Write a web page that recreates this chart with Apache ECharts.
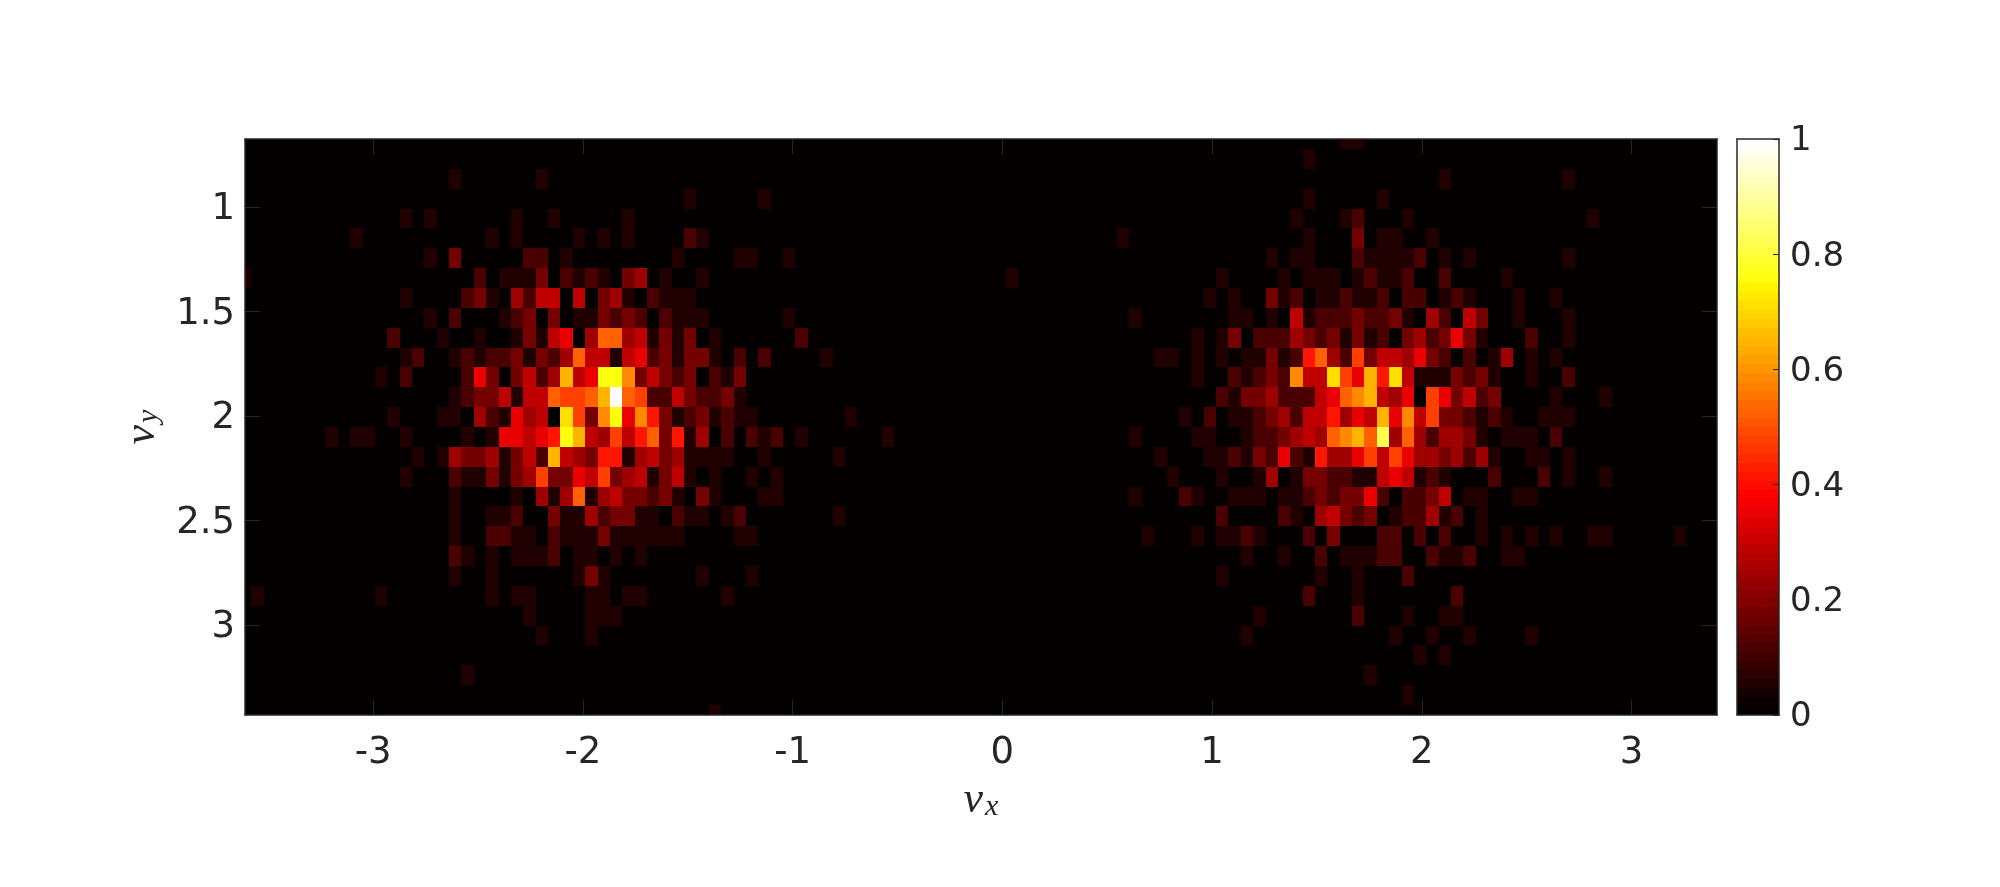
<!DOCTYPE html>
<html>
<head>
<meta charset="utf-8">
<style>html,body{margin:0;padding:0;background:#fff}#c{width:2000px;height:887px}</style>
<script src="https://cdn.jsdelivr.net/npm/echarts@6/dist/echarts.min.js"></script>
</head>
<body>
<div id="c"></div>
<script>
// Histogram counts per row; each run is [startColumn, count, count, ...]; absent cells are zero.
const countRows = [
  [[89,1,1]],
  [[86,1]],
  [[17,1],[24,1],[97,1],[107,1]],
  [[36,1],[42,1],[86,1],[92,1]],
  [[13,1],[15,1],[22,1],[25,1],[31,1],[85,1],[89,1,2],[94,1],[109,1]],
  [[9,1],[20,1],[22,1],[27,1],[29,1],[31,1],[36,2,1],[71,1],[86,1],[90,3],[92,1,1],[96,1]],
  [[15,1],[17,3],[23,2,2],[26,1],[35,1],[40,1,1],[44,1],[83,1],[85,1,1],[90,2,1,1,1,1,2],[97,1],[99,1],[107,1]],
  [[0,1],[19,2],[21,1,1,1,3],[26,2,1,2,1],[31,3,4],[34,1],[37,1],[62,1],[79,1],[84,1],[86,1,1,1],[90,1,2,1,1,2],[97,2],[102,1]],
  [[13,1],[18,2,3,1],[22,4,2,5,5],[27,5],[29,3,4,1],[33,2,1,1,1],[78,1],[80,1],[83,3,1,2],[87,1,1,2,1,1,2],[94,2,2],[97,1,2,1],[103,1],[106,1]],
  [[15,1],[17,2],[21,1,2,3],[25,3],[27,1,1,3,2,3,2],[34,2,1,1,1],[44,1],[72,1],[80,1,1],[83,1],[85,5,1,2,2,2,3,2,2,3,1],[96,4,2],[99,5,3],[103,1],[107,1]],
  [[12,2],[16,1],[19,1],[22,1,3,1,5,6],[28,4,9,9,4,5,1,3,1,3],[38,1],[45,2],[77,1],[79,1,3],[82,2,2,2,4,3,2,3,1,3,1,2],[94,3,4,2,3,6,3,1],[104,2],[107,1]],
  [[13,1,2],[17,1,2,1,2,2,3,1,3,2,4,9,5,5,1,5,6,2,3,1,3,3,1],[40,2],[42,2],[47,1],[74,1,1],[77,1],[79,1],[81,1,1,3,1,2,7,9,4,2,8,3,5,5,4,6,3,2,0,2,0,1,4],[104,1],[106,1]],
  [[11,1],[13,2],[18,2,6,3,0,3,5,2,4,11,5,6,13,13,10,3,5,3,2,3,0,2,1,3],[77,1],[80,2,1,2,3,2,10,5,5,12,8,6,11,7,12,5,1,1,1,3,2,3,1],[104,1],[107,2]],
  [[17,1,2,3,3,5,1,5,5,9,8,8,9,11,17,9,8,2,2,5,3,2,2,3,1],[79,2,1,3,3,4,2,2,2,5,6,9,10,11,5,4,6,0,8,6,3,5,2,3],[106,1],[110,1]],
  [[12,1],[16,1,1,0,4,2,1,6,4,5,0,12,8,3,10,13,6,10,7,3,1,2,3,1,2,1,1],[49,1],[76,1],[78,2],[80,1,1,2,3,4,2,5,5,7,4,6,5,11,6,10,5,8,3,3,2,1,2,1],[105,1,1,1]],
  [[7,1],[9,1,1],[13,1],[18,1],[20,1,6,6,5,6,7,13,11,5,4,8,5,7,9,3,7,1,4,0,2,0,2,1,2,0,1],[52,1],[72,1],[77,1,1],[81,1,2,2,3,4,5,4,9,10,11,9,14,4,9,4,2,4,4,3,1,0,1,1,1,0,2]],
  [[14,1],[16,1,4,3,3,4,1,3,5,2,11,5,4,3,7,7,1,4,5,3,4,1,1,1,1],[42,1],[48,1],[74,1],[78,1,1,2,1,3,2,6,2,1,7,4,4,6,8,5,8,6,4,4,3,4,2,4,1],[104,1,1],[107,1]],
  [[13,1],[17,2,1,1,3,1,3,4,8,3,3,6,5,8,3,4,5,1,3,5,1,0,1],[41,1],[43,1],[75,1],[79,1],[82,1,4,0,1,3,3,2,2,1,1,5,6,5,1,2,1],[101,2],[105,2],[107,1],[110,1]],
  [[17,1],[22,1],[24,4,1,4,9,1,4,5,3,3,2,3,1,0,3,1],[42,1,1],[72,1],[76,2,1],[80,1,1,1],[84,1,1,2,3,2,3,3,6,2,0,2,2,3,5,0,1,1],[103,1,1]],
  [[17,1],[20,1,1,2],[25,3,1,1,4,2,3,3,1,1,0,2,1,1,0,1,2],[48,1],[79,2],[84,2,1],[87,4,5,3,2,3,0,1,2,2,4,1,2],[100,1]],
  [[17,1],[20,2,2,1,1],[25,2,1,1,1,3,1,1,1,1,1,1],[40,1,1],[73,1],[77,1],[79,1,1,2,1],[86,2],[88,3],[92,2,2],[95,2],[97,2],[100,1],[102,1],[104,1],[106,1],[109,1,1],[116,1]],
  [[17,2,1],[20,1],[22,1,1,1,2],[27,1,1],[30,1],[32,1],[81,1],[84,1],[87,2],[89,1,1,1,2,2],[96,2,1,1,2],[102,1,1]],
  [[17,1],[20,1],[27,1,3,1],[37,1],[41,1],[79,1],[87,1],[90,1],[94,2]],
  [[1,1],[11,1],[20,1],[22,1,1],[28,1,1],[31,1,1],[39,1],[86,2],[90,1],[98,2]],
  [[23,1],[28,1,1,1],[82,1],[90,2],[94,1],[97,1,1]],
  [[24,1],[28,1],[81,1],[93,1],[96,1],[99,1],[104,1]],
  [[95,1],[97,1]],
  [[18,1],[91,1]],
  [[94,1]],
  [[38,1]]
];
const maxCount = 17;
const columnCount = 120;
const vxStart = -3.611, vxEnd = 3.407;
const vyStart = 0.675, vyEnd = 3.43;
const vxTicks = [-3, -2, -1, 0, 1, 2, 3];
const vyTicks = [1, 1.5, 2, 2.5, 3];
const barTicks = [0, 0.2, 0.4, 0.6, 0.8, 1];
const colorLevels = 64;

const vxStep = (vxEnd - vxStart) / (columnCount - 1);
const vyStep = (vyEnd - vyStart) / (countRows.length - 1);

function hotColor(value) {
  const i = Math.min(colorLevels - 1, Math.floor(value * colorLevels));
  const c = t => Math.round(255 * Math.max(0, Math.min(1, t)));
  const r = Math.max(5, c(i / 24));
  return 'rgb(' + r + ',' + c((i - 24) / 24) + ',' + c((i - 47) / 16) + ')';
}

const cells = [];
countRows.forEach((runs, row) => {
  const line = new Array(columnCount).fill(0);
  runs.forEach(run => run.slice(1).forEach((n, k) => { line[run[0] + k] = n; }));
  line.forEach((n, col) => {
    cells.push([vxStart + col * vxStep, vyStart + row * vyStep, n / maxCount]);
  });
});

const barCells = [];
for (let i = 0; i < colorLevels; i++) barCells.push([0.5, (i + 0.5) / colorLevels, (i + 0.5) / colorLevels]);

function cellRenderer(dx, dy) {
  return function (params, api) {
    const a = api.coord([api.value(0) - dx / 2, api.value(1) - dy / 2]);
    const b = api.coord([api.value(0) + dx / 2, api.value(1) + dy / 2]);
    const cs = params.coordSys;
    const x0 = Math.round(Math.max(cs.x, Math.min(a[0], b[0])));
    const x1 = Math.round(Math.min(cs.x + cs.width, Math.max(a[0], b[0])));
    const y0 = Math.round(Math.max(cs.y, Math.min(a[1], b[1])));
    const y1 = Math.round(Math.min(cs.y + cs.height, Math.max(a[1], b[1])));
    return {
      type: 'rect',
      shape: { x: x0, y: y0, width: x1 - x0, height: y1 - y0 },
      style: { fill: hotColor(api.value(2)) }
    };
  };
}

const ink = '#262626';
const line = { show: true, onZero: false, lineStyle: { color: ink, width: 1.5 } };
const plotTick = values => ({ show: true, inside: true, length: 15, customValues: values, lineStyle: { color: ink, width: 1 } });
const xLabelFont = { color: ink, fontFamily: 'DejaVu Sans', fontSize: 37, padding: [5, 0, 0, 0] };
const shifted = text => '{a|' + text + '}';
const shiftedLabel = size => ({
  color: ink, fontFamily: 'DejaVu Sans', fontSize: size, formatter: v => shifted(String(v)),
  rich: { a: { color: ink, fontFamily: 'DejaVu Sans', fontSize: size, verticalAlign: 'bottom', padding: [5, 0, 0, 0] } }
});
const nameRich = {
  v: { fontFamily: 'Liberation Serif', fontStyle: 'italic', fontSize: 44, color: ink },
  s: { fontFamily: 'Liberation Serif', fontStyle: 'italic', fontSize: 30, color: ink, verticalAlign: 'bottom', padding: [14, 0, 0, 2] }
};

const chart = echarts.init(document.getElementById('c'), null, { renderer: 'canvas' });
chart.setOption({
  animation: false,
  backgroundColor: '#ffffff',
  grid: [
    { left: 245, top: 139, width: 1472, height: 576 },
    { left: 1737, top: 139, width: 42, height: 576 }
  ],
  xAxis: [
    { gridIndex: 0, type: 'value', position: 'bottom', min: vxStart, max: vxEnd, z: 5,
      axisLine: line, axisTick: plotTick(vxTicks), splitLine: { show: false },
      axisLabel: Object.assign({ margin: 15, customValues: vxTicks, formatter: v => String(v) }, xLabelFont),
      name: '{v|v}{s|x}', nameLocation: 'middle', nameGap: 63, nameTextStyle: { rich: nameRich } },
    { gridIndex: 0, type: 'value', position: 'top', min: vxStart, max: vxEnd, z: 5,
      axisLine: line, axisTick: plotTick(vxTicks), axisLabel: { show: false }, splitLine: { show: false } },
    { gridIndex: 1, type: 'value', position: 'bottom', min: 0, max: 1, z: 5,
      axisLine: line, axisTick: { show: false }, axisLabel: { show: false }, splitLine: { show: false } },
    { gridIndex: 1, type: 'value', position: 'top', min: 0, max: 1, z: 5,
      axisLine: line, axisTick: { show: false }, axisLabel: { show: false }, splitLine: { show: false } }
  ],
  yAxis: [
    { gridIndex: 0, type: 'value', position: 'left', inverse: true, min: vyStart, max: vyEnd, z: 5,
      axisLine: line, axisTick: plotTick(vyTicks), splitLine: { show: false },
      axisLabel: Object.assign({ margin: 10, customValues: vyTicks }, shiftedLabel(37)),
      name: '{v|v}{s|y}', nameLocation: 'middle', nameGap: 81, nameTextStyle: { rich: nameRich } },
    { gridIndex: 0, type: 'value', position: 'right', inverse: true, min: vyStart, max: vyEnd, z: 5,
      axisLine: line, axisTick: plotTick(vyTicks), axisLabel: { show: false }, splitLine: { show: false } },
    { gridIndex: 1, type: 'value', position: 'left', min: 0, max: 1, z: 5,
      axisLine: line, axisTick: { show: false }, axisLabel: { show: false }, splitLine: { show: false } },
    { gridIndex: 1, type: 'value', position: 'right', min: 0, max: 1, z: 5,
      axisLine: line,
      axisTick: { show: true, inside: true, length: 6, customValues: barTicks, lineStyle: { color: ink, width: 1 } },
      axisLabel: Object.assign({ margin: 11, customValues: barTicks }, shiftedLabel(34)),
      splitLine: { show: false } }
  ],
  series: [
    { type: 'custom', xAxisIndex: 0, yAxisIndex: 0, clip: true, silent: true, data: cells,
      encode: { x: 0, y: 1 }, renderItem: cellRenderer(vxStep, vyStep) },
    { type: 'custom', xAxisIndex: 2, yAxisIndex: 2, clip: true, silent: true, data: barCells,
      encode: { x: 0, y: 1 }, renderItem: cellRenderer(1, 1 / colorLevels) }
  ]
});
</script>
</body>
</html>
